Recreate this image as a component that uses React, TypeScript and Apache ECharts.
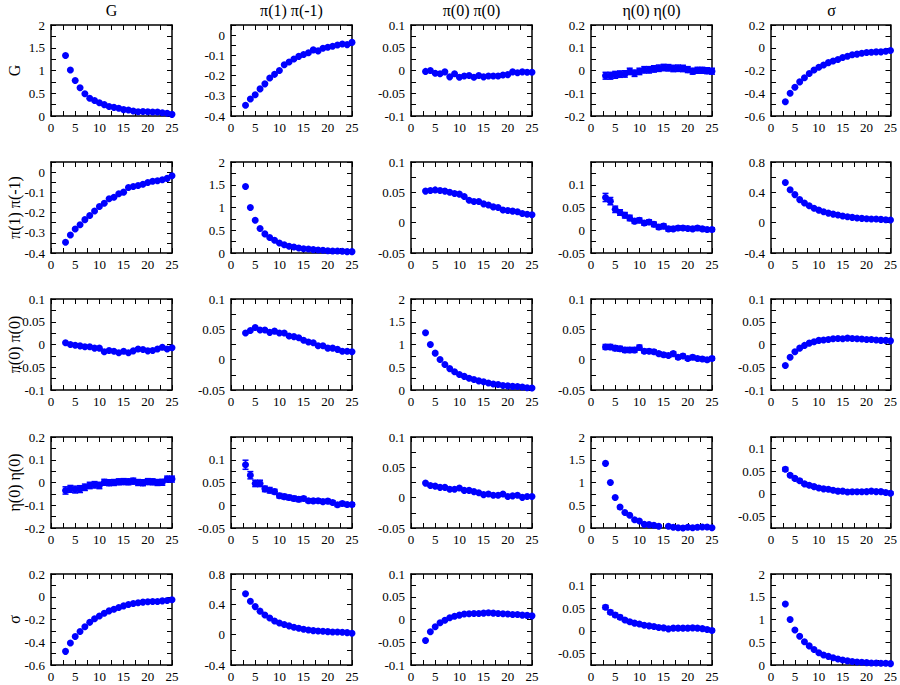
import React, { useEffect, useRef } from "react";
import * as echarts from "echarts";

// x values (time separation)
const X = [3, 4, 5, 6, 7, 8, 9, 10, 11, 12, 13, 14, 15, 16, 17, 18, 19, 20, 21, 22, 23, 24, 25];

const TITLES = ["G", "π(1) π(-1)", "π(0) π(0)", "η(0) η(0)", "σ"];

// Row G
const G_G = [1.33, 1.01, 0.78, 0.62, 0.49, 0.39, 0.34, 0.29, 0.25, 0.21, 0.19, 0.17, 0.14, 0.13, 0.11, 0.095, 0.1, 0.095, 0.087, 0.087, 0.073, 0.06, 0.036];
const G_P1 = [-0.347, -0.316, -0.295, -0.266, -0.241, -0.212, -0.194, -0.175, -0.147, -0.133, -0.118, -0.105, -0.096, -0.087, -0.073, -0.078, -0.065, -0.06, -0.055, -0.049, -0.044, -0.047, -0.036];
const G_P0 = [-0.002, 0.0, -0.006, -0.007, -0.003, -0.014, -0.007, -0.015, -0.012, -0.011, -0.015, -0.011, -0.014, -0.012, -0.012, -0.012, -0.01, -0.009, -0.003, -0.005, -0.003, -0.004, -0.004];
const G_ETA = [-0.023, -0.023, -0.019, -0.016, -0.015, -0.004, -0.012, -0.004, 0.003, 0.003, 0.007, 0.01, 0.013, 0.012, 0.009, 0.01, 0.009, 0.004, -0.003, 0.001, 0.001, -0.001, -0.003];
const G_ETA_ERR = [0.015, 0.015, 0.015, 0.014, 0.014, 0.014, 0.014, 0.014, 0.014, 0.014, 0.014, 0.014, 0.014, 0.014, 0.014, 0.014, 0.014, 0.013, 0.013, 0.013, 0.013, 0.013, 0.013];
const G_SIG = [-0.475, -0.4, -0.347, -0.3, -0.264, -0.226, -0.196, -0.172, -0.151, -0.131, -0.116, -0.104, -0.086, -0.074, -0.062, -0.056, -0.048, -0.042, -0.039, -0.036, -0.036, -0.03, -0.024];

// Row π(1) π(-1)
const P1_G = [-0.347, -0.311, -0.281, -0.26, -0.235, -0.215, -0.192, -0.17, -0.154, -0.132, -0.124, -0.107, -0.099, -0.076, -0.071, -0.066, -0.06, -0.051, -0.045, -0.043, -0.038, -0.031, -0.018];
const P1_P1 = [1.46, 1.0, 0.72, 0.54, 0.42, 0.34, 0.28, 0.22, 0.18, 0.15, 0.13, 0.11, 0.095, 0.088, 0.074, 0.066, 0.059, 0.051, 0.044, 0.044, 0.037, 0.03, 0.03];
const P1_P0 = [0.052, 0.053, 0.054, 0.053, 0.052, 0.05, 0.048, 0.047, 0.043, 0.037, 0.035, 0.035, 0.031, 0.029, 0.026, 0.025, 0.021, 0.02, 0.019, 0.018, 0.015, 0.014, 0.013];
const P1_ETA = [0.072, 0.064, 0.046, 0.039, 0.033, 0.027, 0.02, 0.022, 0.016, 0.018, 0.013, 0.007, 0.009, 0.003, 0.003, 0.005, 0.005, 0.004, 0.003, 0.005, 0.003, 0.0015, 0.0015];
const P1_ETA_ERR = [0.009, 0.008, 0.007, 0.006, 0.006, 0.006, 0.005, 0.005, 0.005, 0.005, 0.005, 0.005, 0.005, 0.005, 0.004, 0.004, 0.004, 0.004, 0.004, 0.004, 0.004, 0.004, 0.004];
const P1_SIG = [0.53, 0.435, 0.37, 0.304, 0.26, 0.222, 0.191, 0.165, 0.143, 0.126, 0.113, 0.1, 0.087, 0.078, 0.07, 0.061, 0.057, 0.052, 0.048, 0.048, 0.043, 0.039, 0.035];

// Row π(0) π(0)
const P0_G = [0.004, 0.0, -0.0015, -0.003, -0.005, -0.005, -0.008, -0.008, -0.016, -0.013, -0.015, -0.018, -0.015, -0.018, -0.014, -0.01, -0.011, -0.014, -0.013, -0.01, -0.006, -0.01, -0.007];
const P0_P1 = [0.044, 0.048, 0.053, 0.049, 0.049, 0.045, 0.047, 0.044, 0.044, 0.039, 0.038, 0.036, 0.032, 0.029, 0.028, 0.023, 0.023, 0.019, 0.019, 0.017, 0.014, 0.014, 0.013];
const P0_P0 = [1.26, 1.0, 0.81, 0.67, 0.56, 0.47, 0.4, 0.34, 0.3, 0.26, 0.23, 0.2, 0.18, 0.155, 0.13, 0.12, 0.1, 0.09, 0.08, 0.075, 0.066, 0.05, 0.045];
const P0_ETA = [0.021, 0.021, 0.019, 0.018, 0.016, 0.016, 0.016, 0.02, 0.014, 0.014, 0.013, 0.01, 0.008, 0.007, 0.01, 0.004, 0.006, 0.002, 0.004, 0.002, 0.001, 0.0, 0.002];
const P0_ETA_ERR = [0.004, 0.004, 0.004, 0.004, 0.004, 0.004, 0.004, 0.004, 0.003, 0.003, 0.003, 0.003, 0.003, 0.003, 0.003, 0.003, 0.003, 0.003, 0.003, 0.003, 0.003, 0.003, 0.003];
const P0_SIG = [-0.046, -0.028, -0.016, -0.008, -0.002, 0.003, 0.006, 0.009, 0.01, 0.011, 0.0125, 0.013, 0.0125, 0.014, 0.013, 0.0125, 0.012, 0.011, 0.011, 0.01, 0.009, 0.009, 0.008];

// Row η(0) η(0)
const ETA_G = [-0.035, -0.028, -0.031, -0.029, -0.021, -0.013, -0.01, -0.013, 0.001, -0.001, 0.0, 0.003, 0.004, 0.003, 0.006, 0.0, -0.001, 0.004, 0.003, 0.0, 0.001, 0.015, 0.015];
const ETA_G_ERR = [0.016, 0.015, 0.015, 0.015, 0.014, 0.014, 0.014, 0.014, 0.013, 0.013, 0.013, 0.013, 0.013, 0.013, 0.013, 0.013, 0.013, 0.013, 0.013, 0.013, 0.013, 0.013, 0.013];
const ETA_P1 = [0.089, 0.066, 0.048, 0.048, 0.036, 0.033, 0.03, 0.021, 0.019, 0.017, 0.015, 0.013, 0.015, 0.01, 0.0096, 0.01, 0.008, 0.009, 0.006, 0.001, 0.004, 0.0015, 0.0015];
const ETA_P1_ERR = [0.01, 0.008, 0.007, 0.007, 0.006, 0.006, 0.005, 0.005, 0.005, 0.005, 0.005, 0.005, 0.004, 0.004, 0.004, 0.004, 0.004, 0.004, 0.004, 0.004, 0.004, 0.004, 0.004];
const ETA_P0 = [0.024, 0.02, 0.019, 0.017, 0.017, 0.014, 0.014, 0.016, 0.012, 0.012, 0.01, 0.008, 0.005, 0.006, 0.004, 0.004, 0.006, 0.002, 0.003, 0.004, 0.0005, 0.002, 0.002];
const ETA_ETA = [1.42, 1.0, 0.67, 0.46, 0.34, 0.28, 0.18, 0.155, 0.08, 0.074, 0.06, 0.037, -0.02, 0.037, 0.015, 0.007, 0.0, 0.015, 0.007, 0.015, 0.022, 0.022, 0.007];
const ETA_SIG = [0.054, 0.041, 0.034, 0.029, 0.022, 0.019, 0.016, 0.013, 0.011, 0.01, 0.008, 0.006, 0.006, 0.004, 0.0045, 0.0045, 0.0045, 0.005, 0.006, 0.005, 0.005, 0.003, 0.0015];
const ETA_SIG_ERR = [0.004, 0.003, 0.003, 0.003, 0.003, 0.003, 0.003, 0.003, 0.003, 0.003, 0.003, 0.003, 0.003, 0.003, 0.003, 0.003, 0.003, 0.003, 0.003, 0.003, 0.003, 0.003, 0.003];

// Row σ
const SIG_G = [-0.48, -0.406, -0.35, -0.305, -0.264, -0.225, -0.193, -0.169, -0.145, -0.124, -0.11, -0.095, -0.08, -0.068, -0.059, -0.053, -0.047, -0.044, -0.041, -0.041, -0.036, -0.033, -0.027];
const SIG_P1 = [0.54, 0.44, 0.37, 0.31, 0.26, 0.22, 0.18, 0.155, 0.133, 0.116, 0.098, 0.084, 0.071, 0.062, 0.053, 0.049, 0.044, 0.04, 0.036, 0.036, 0.031, 0.027, 0.018];
const SIG_P0 = [-0.046, -0.027, -0.016, -0.007, -0.0015, 0.004, 0.007, 0.0096, 0.012, 0.0126, 0.013, 0.013, 0.014, 0.015, 0.014, 0.013, 0.0126, 0.012, 0.011, 0.011, 0.0096, 0.009, 0.008];
const SIG_ETA = [0.052, 0.041, 0.035, 0.03, 0.024, 0.02, 0.017, 0.015, 0.0125, 0.011, 0.0096, 0.0074, 0.0066, 0.0044, 0.006, 0.006, 0.006, 0.006, 0.0066, 0.006, 0.005, 0.003, 0.001];
const SIG_ETA_ERR = [0.004, 0.004, 0.004, 0.004, 0.003, 0.003, 0.003, 0.003, 0.003, 0.003, 0.003, 0.003, 0.003, 0.003, 0.003, 0.003, 0.003, 0.003, 0.003, 0.003, 0.003, 0.003, 0.003];
const SIG_SIG = [1.34, 1.0, 0.77, 0.63, 0.51, 0.42, 0.34, 0.27, 0.22, 0.19, 0.16, 0.13, 0.11, 0.09, 0.075, 0.067, 0.06, 0.052, 0.045, 0.045, 0.037, 0.037, 0.03];

const VALUES = [
  [G_G, G_P1, G_P0, G_ETA, G_SIG],
  [P1_G, P1_P1, P1_P0, P1_ETA, P1_SIG],
  [P0_G, P0_P1, P0_P0, P0_ETA, P0_SIG],
  [ETA_G, ETA_P1, ETA_P0, ETA_ETA, ETA_SIG],
  [SIG_G, SIG_P1, SIG_P0, SIG_ETA, SIG_SIG],
];
const ERRORS: (number[] | null)[][] = [
  [null, null, null, G_ETA_ERR, null],
  [null, null, null, P1_ETA_ERR, null],
  [null, null, null, P0_ETA_ERR, null],
  [ETA_G_ERR, ETA_P1_ERR, null, null, ETA_SIG_ERR],
  [null, null, null, SIG_ETA_ERR, null],
];

// y axis: [min, max, tick interval, label step, highest label]
const Y_AXES = [
  [[0, 2, 0.25, 0.5, 2], [-0.4, 0.05, 0.05, 0.1, 0], [-0.1, 0.1, 0.025, 0.05, 0.1], [-0.2, 0.2, 0.05, 0.1, 0.2], [-0.6, 0.2, 0.1, 0.2, 0.2]],
  [[-0.4, 0.05, 0.05, 0.1, 0], [0, 2, 0.25, 0.5, 2], [-0.05, 0.1, 0.025, 0.05, 0.1], [-0.05, 0.15, 0.025, 0.05, 0.1], [-0.4, 0.8, 0.2, 0.4, 0.8]],
  [[-0.1, 0.1, 0.025, 0.05, 0.1], [-0.05, 0.1, 0.025, 0.05, 0.1], [0, 2, 0.25, 0.5, 2], [-0.05, 0.1, 0.025, 0.05, 0.1], [-0.1, 0.1, 0.025, 0.05, 0.1]],
  [[-0.2, 0.2, 0.05, 0.1, 0.2], [-0.05, 0.15, 0.025, 0.05, 0.1], [-0.05, 0.1, 0.025, 0.05, 0.1], [0, 2, 0.25, 0.5, 2], [-0.075, 0.125, 0.025, 0.05, 0.1]],
  [[-0.6, 0.2, 0.1, 0.2, 0.2], [-0.4, 0.8, 0.2, 0.4, 0.8], [-0.1, 0.1, 0.025, 0.05, 0.1], [-0.075, 0.125, 0.025, 0.05, 0.1], [0, 2, 0.25, 0.5, 2]],
];

const COL_LEFT = [51, 231, 411, 591, 771];
const ROW_TOP = [25, 162, 299, 437, 574];
const PW = 121;
const PH = 91;
const BLUE = "#0000ff";
const FONT = "Liberation Serif";

function fmt(v: number) {
  const r = Math.round(v * 1e6) / 1e6;
  return r === 0 ? "0" : String(r);
}
function isMult(v: number, s: number) {
  const q = v / s;
  return Math.abs(q - Math.round(q)) < 1e-6;
}

export default function App() {
  const ref = useRef<HTMLDivElement>(null);
  useEffect(() => {
    if (!ref.current) return;
    const chart = echarts.init(ref.current, null, { renderer: "svg" });
    const grid: any[] = [];
    const xAxis: any[] = [];
    const yAxis: any[] = [];
    const series: any[] = [];
    const graphic: any[] = [];
    const line = { show: true, onZero: false, lineStyle: { color: "#000", width: 1.5 } };
    const tick = { show: true, inside: true, length: 5, lineStyle: { color: "#000", width: 1 } };
    const labelStyle = { color: "#000", fontFamily: FONT, fontSize: 13, fontWeight: "normal" as const };
    for (let r = 0; r < 5; r++) {
      for (let c = 0; c < 5; c++) {
        const k = r * 5 + c;
        grid.push({ left: COL_LEFT[c], top: ROW_TOP[r], width: PW, height: PH, containLabel: false });
        const [ymin, ymax, yint, ystep, ytop] = Y_AXES[r][c];
        xAxis.push({
          type: "value", gridIndex: k, position: "bottom", min: 0, max: 25, interval: 2.5,
          axisLine: line, axisTick: tick, splitLine: { show: false },
          axisLabel: {
            ...labelStyle, margin: 5,
            formatter: (v: number) => (isMult(v, 5) ? fmt(v) : ""),
          },
        });
        xAxis.push({
          type: "value", gridIndex: k, position: "top", min: 0, max: 25, interval: 2.5,
          axisLine: line, axisTick: tick, splitLine: { show: false }, axisLabel: { show: false },
        });
        yAxis.push({
          type: "value", gridIndex: k, position: "left", min: ymin, max: ymax, interval: yint,
          axisLine: line, axisTick: tick, splitLine: { show: false },
          axisLabel: {
            ...labelStyle, margin: 6,
            formatter: (v: number) => (isMult(v, ystep) && v <= ytop + 1e-9 ? fmt(v) : ""),
          },
        });
        yAxis.push({
          type: "value", gridIndex: k, position: "right", min: ymin, max: ymax, interval: yint,
          axisLine: line, axisTick: tick, splitLine: { show: false }, axisLabel: { show: false },
        });
        const vals = VALUES[r][c];
        const errs = ERRORS[r][c];
        if (errs) {
          series.push({
            type: "custom", xAxisIndex: 2 * k, yAxisIndex: 2 * k, z: 2,
            data: X.map((x, i) => [x, vals[i], errs[i]]),
            encode: { x: 0, y: 1 },
            renderItem: (params: any, api: any) => {
              const x = api.value(0), y = api.value(1), e = api.value(2);
              const p1 = api.coord([x, y - e]);
              const p2 = api.coord([x, y + e]);
              const w = 3;
              const st = { stroke: BLUE, lineWidth: 1.5 };
              return {
                type: "group",
                children: [
                  { type: "line", shape: { x1: p1[0], y1: p1[1], x2: p2[0], y2: p2[1] }, style: st },
                  { type: "line", shape: { x1: p1[0] - w, y1: p1[1], x2: p1[0] + w, y2: p1[1] }, style: st },
                  { type: "line", shape: { x1: p2[0] - w, y1: p2[1], x2: p2[0] + w, y2: p2[1] }, style: st },
                ],
              };
            },
          });
        }
        series.push({
          type: "scatter", xAxisIndex: 2 * k, yAxisIndex: 2 * k, z: 3,
          symbol: "circle", symbolSize: 7, itemStyle: { color: BLUE, opacity: 1 },
          data: X.map((x, i) => [x, vals[i]]),
        });
      }
    }
    for (let c = 0; c < 5; c++) {
      graphic.push({
        type: "text", x: COL_LEFT[c] + PW / 2, y: 10,
        style: { text: TITLES[c], font: `16px "${FONT}"`, fill: "#000", align: "center", verticalAlign: "middle" },
      });
    }
    for (let r = 0; r < 5; r++) {
      graphic.push({
        type: "text", x: 14, y: ROW_TOP[r] + PH / 2, rotation: Math.PI / 2,
        style: { text: TITLES[r], font: `16px "${FONT}"`, fill: "#000", align: "center", verticalAlign: "middle" },
      });
    }
    chart.setOption({
      animation: false,
      backgroundColor: "#fff",
      textStyle: { fontFamily: FONT },
      grid, xAxis, yAxis, series, graphic,
    });
    return () => chart.dispose();
  }, []);
  return <div ref={ref} style={{ position: "fixed", left: 0, top: 0, width: 900, height: 685 }} />;
}
